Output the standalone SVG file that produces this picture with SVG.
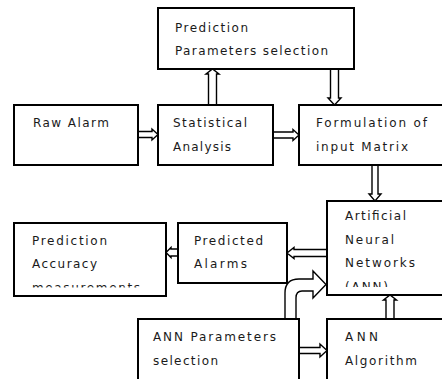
<svg xmlns="http://www.w3.org/2000/svg" width="442" height="379" viewBox="0 0 442 379">
<style>
.box{fill:#fff;stroke:#000;stroke-width:2}
.arr{fill:#fff;stroke:#000;stroke-width:1.4;stroke-linejoin:miter}
text{font-family:"DejaVu Sans","Liberation Sans",Arial,sans-serif;font-size:12px;fill:#1a1a1a}
</style>
<defs>
<clipPath id="clipAcc"><rect x="14" y="223" width="152" height="64.5"/></clipPath>
<clipPath id="clipAnn"><rect x="327" y="201" width="120" height="86"/></clipPath>
</defs>
<rect width="442" height="379" fill="#fff"/>
<g id="connectors">
<polygon class="arr" points="138,131.5 152,131.5 152,129 158,134.5 152,140 152,137.5 138,137.5"/>
<polygon class="arr" points="273,132 293,132 293,129.5 299,135 293,140.5 293,138 273,138"/>
<polygon class="arr" points="208.5,105 208.5,74 206,74 212.5,69 219,74 216.5,74 216.5,105"/>
<polygon class="arr" points="330.5,69 330.5,98 328,98 334.5,105 341,98 338.5,98 338.5,69"/>
<polygon class="arr" points="372,165 372,194 369,194 375,201 381,194 378,194 378,165"/>
<polygon class="arr" points="327,249.5 294,249.5 294,247.5 287,253 294,258.5 294,256.5 327,256.5"/>
<polygon class="arr" points="178,249 171,249 171,247.5 166,252.5 171,257.5 171,256 178,256"/>
<polygon class="arr" points="299,347.5 320,347.5 320,344 327,350.5 320,357 320,353.5 299,353.5"/>
<polygon class="arr" points="386,319 386,300 383.5,300 390,295 396.5,300 394,300 394,319"/>
<path class="arr" d="M285,319 L285,293 Q285,279 299,279 L313,279 L313,271 L326,284.5 L313,298 L313,291 L302,291 Q296,291 296,298 L296,319 Z"/>
</g>
<g id="pred-params">
<rect class="box" x="158" y="8" width="196" height="61"/>
<text x="175" y="32" textLength="73" lengthAdjust="spacing">Prediction</text>
<text x="175" y="55" textLength="153" lengthAdjust="spacing">Parameters selection</text>
</g>
<g id="raw-alarm">
<rect class="box" x="14" y="105" width="124" height="60"/>
<text x="33" y="127" textLength="76" lengthAdjust="spacing">Raw Alarm</text>
</g>
<g id="statistical">
<rect class="box" x="158" y="105" width="115" height="60"/>
<text x="173" y="127" textLength="74" lengthAdjust="spacing">Statistical</text>
<text x="173" y="151" textLength="58" lengthAdjust="spacing">Analysis</text>
</g>
<g id="formulation">
<rect class="box" x="299" y="105" width="150" height="60"/>
<text x="316" y="127" textLength="111" lengthAdjust="spacing">Formulation of</text>
<text x="316" y="151" textLength="92" lengthAdjust="spacing">input Matrix</text>
</g>
<g id="ann">
<rect class="box" x="327" y="201" width="122" height="94"/>
<g clip-path="url(#clipAnn)">
<text x="345" y="220" textLength="61" lengthAdjust="spacing">Artificial</text>
<text x="345" y="244" textLength="49" lengthAdjust="spacing">Neural</text>
<text x="345" y="267" textLength="70" lengthAdjust="spacing">Networks</text>
<text x="345" y="291" textLength="43" lengthAdjust="spacing">(ANN)</text>
</g>
</g>
<g id="pred-accuracy">
<rect class="box" x="14" y="223" width="152" height="73"/>
<g clip-path="url(#clipAcc)">
<text x="32" y="245" textLength="75" lengthAdjust="spacing">Prediction</text>
<text x="32" y="268" textLength="65" lengthAdjust="spacing">Accuracy</text>
<text x="32" y="292" textLength="108" lengthAdjust="spacing">measurements</text>
</g>
</g>
<g id="predicted-alarms">
<rect class="box" x="178" y="223" width="109" height="60"/>
<text x="194" y="245" textLength="69" lengthAdjust="spacing">Predicted</text>
<text x="194" y="268" textLength="53" lengthAdjust="spacing">Alarms</text>
</g>
<g id="ann-params">
<rect class="box" x="138" y="319" width="161" height="70"/>
<text x="153" y="341" textLength="123" lengthAdjust="spacing">ANN Parameters</text>
<text x="153" y="365" textLength="65" lengthAdjust="spacing">selection</text>
</g>
<g id="ann-algorithm">
<rect class="box" x="327" y="319" width="122" height="70"/>
<text x="345" y="341" textLength="33" lengthAdjust="spacing">ANN</text>
<text x="345" y="365" textLength="72" lengthAdjust="spacing">Algorithm</text>
</g>
</svg>
